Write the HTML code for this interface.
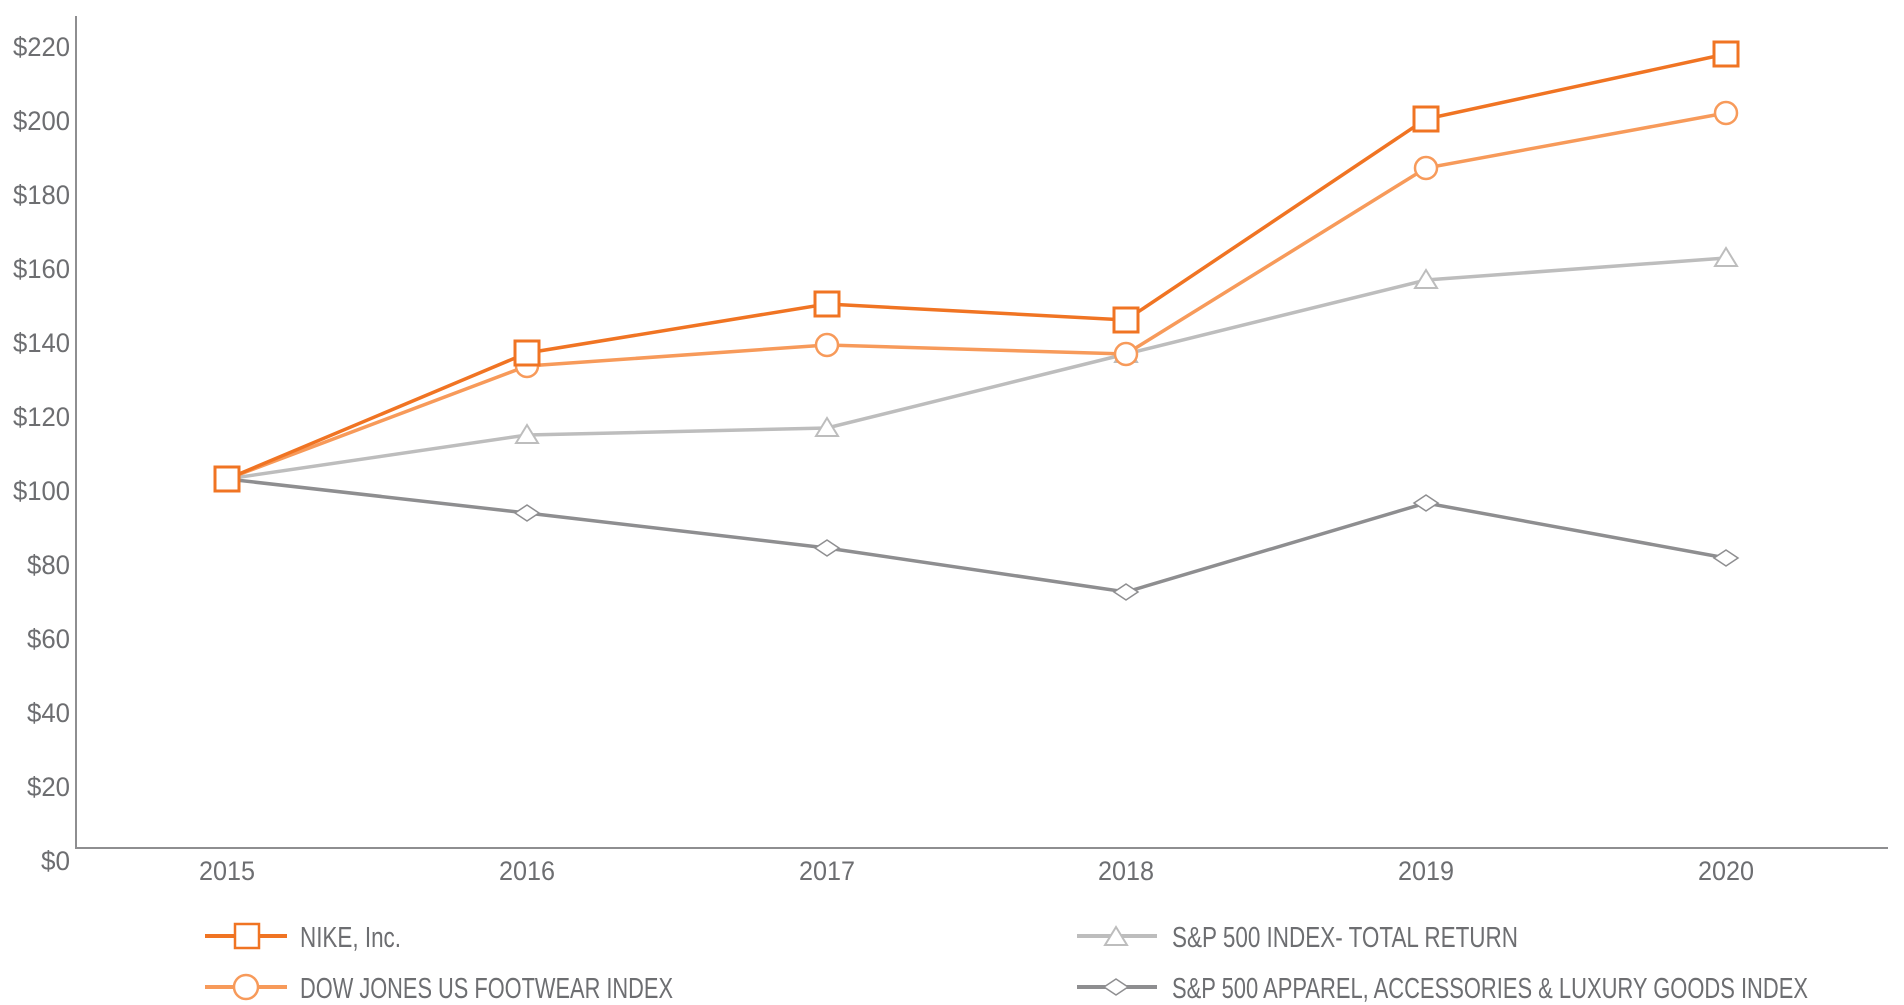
<!DOCTYPE html>
<html><head><meta charset="utf-8"><style>
html,body{margin:0;padding:0;background:#fff;}
svg{display:block;}
text{font-family:"Liberation Sans",Arial,sans-serif;fill:#6d6e71;}
</style></head><body>
<svg width="1904" height="1005" viewBox="0 0 1904 1005" xmlns="http://www.w3.org/2000/svg">
<line x1="76" y1="16" x2="76" y2="849" stroke="#8e8e90" stroke-width="2"/>
<line x1="75" y1="848" x2="1888" y2="848" stroke="#8e8e90" stroke-width="2"/>
<g font-size="27" text-anchor="end">
<text x="70" y="56" textLength="57" lengthAdjust="spacingAndGlyphs">$220</text>
<text x="70" y="130" textLength="57" lengthAdjust="spacingAndGlyphs">$200</text>
<text x="70" y="204" textLength="57" lengthAdjust="spacingAndGlyphs">$180</text>
<text x="70" y="278" textLength="57" lengthAdjust="spacingAndGlyphs">$160</text>
<text x="70" y="352" textLength="57" lengthAdjust="spacingAndGlyphs">$140</text>
<text x="70" y="426" textLength="57" lengthAdjust="spacingAndGlyphs">$120</text>
<text x="70" y="500" textLength="57" lengthAdjust="spacingAndGlyphs">$100</text>
<text x="70" y="574" textLength="43" lengthAdjust="spacingAndGlyphs">$80</text>
<text x="70" y="648" textLength="43" lengthAdjust="spacingAndGlyphs">$60</text>
<text x="70" y="722" textLength="43" lengthAdjust="spacingAndGlyphs">$40</text>
<text x="70" y="796" textLength="43" lengthAdjust="spacingAndGlyphs">$20</text>
<text x="70" y="870" textLength="29" lengthAdjust="spacingAndGlyphs">$0</text>
</g>
<g font-size="27" text-anchor="middle">
<text x="227" y="880" textLength="56" lengthAdjust="spacingAndGlyphs">2015</text>
<text x="527" y="880" textLength="56" lengthAdjust="spacingAndGlyphs">2016</text>
<text x="827" y="880" textLength="56" lengthAdjust="spacingAndGlyphs">2017</text>
<text x="1126" y="880" textLength="56" lengthAdjust="spacingAndGlyphs">2018</text>
<text x="1426" y="880" textLength="56" lengthAdjust="spacingAndGlyphs">2019</text>
<text x="1726" y="880" textLength="56" lengthAdjust="spacingAndGlyphs">2020</text>
</g>
<!-- apparel -->
<polyline fill="none" stroke="#8e8e90" stroke-width="3.5" points="227,479 527,513 827,548 1126,592 1426,503 1726,558"/>
<g fill="#fff" stroke="#8e8e90" stroke-width="1.5">
<polygon points="515,513 527,505 539,513 527,521"/><polygon points="815,548 827,540 839,548 827,556"/>
<polygon points="1114,592 1126,584 1138,592 1126,600"/><polygon points="1414,503 1426,495 1438,503 1426,511"/>
<polygon points="1714,558 1726,550 1738,558 1726,566"/>
</g>
<!-- sp500 -->
<polyline fill="none" stroke="#bdbdbd" stroke-width="3.5" points="227,479 527,435 827,428 1126,354 1426,280 1726,258"/>
<g fill="#fff" stroke="#bdbdbd" stroke-width="2">
<polygon points="516,443 527,425 538,443"/><polygon points="816,436 827,418 838,436"/>
<polygon points="1115,362 1126,344 1137,362"/><polygon points="1415,288 1426,270 1437,288"/>
<polygon points="1715,266 1726,248 1737,266"/>
</g>
<!-- dow -->
<polyline fill="none" stroke="#f79a5a" stroke-width="3.5" points="227,479 527,366 827,345 1126,354 1426,168 1726,113"/>
<g fill="#fff" stroke="#f79a5a" stroke-width="2.5">
<ellipse cx="527" cy="366" rx="11" ry="11"/><ellipse cx="827" cy="345" rx="11" ry="11"/>
<ellipse cx="1126" cy="354" rx="11" ry="11"/><ellipse cx="1426" cy="168" rx="11" ry="11"/>
<ellipse cx="1726" cy="113" rx="11" ry="11"/>
</g>
<!-- nike -->
<polyline fill="none" stroke="#f07423" stroke-width="3.5" points="227,479 527,353 827,304 1126,320 1426,119 1726,54"/>
<g fill="#fff" stroke="#f07423" stroke-width="3">
<rect x="215" y="467" width="24" height="24"/><rect x="515" y="341" width="24" height="24"/>
<rect x="815" y="292" width="24" height="24"/><rect x="1114" y="308" width="24" height="24"/>
<rect x="1414" y="107" width="24" height="24"/><rect x="1714" y="42" width="24" height="24"/>
</g>
<!-- legend -->
<line x1="205" y1="936" x2="287" y2="936" stroke="#f07423" stroke-width="4"/>
<rect x="235" y="924" width="24" height="24" fill="#fff" stroke="#f07423" stroke-width="2.5"/>
<text x="300" y="947" font-size="29" textLength="101" lengthAdjust="spacingAndGlyphs">NIKE, Inc.</text>
<line x1="205" y1="987" x2="287" y2="987" stroke="#f79a5a" stroke-width="4"/>
<circle cx="246" cy="987" r="12" fill="#fff" stroke="#f79a5a" stroke-width="2.5"/>
<text x="300" y="998" font-size="29" textLength="373" lengthAdjust="spacingAndGlyphs">DOW JONES US FOOTWEAR INDEX</text>
<line x1="1077" y1="936" x2="1157" y2="936" stroke="#bdbdbd" stroke-width="4"/>
<polygon points="1105,945 1116,927 1127,945" fill="#fff" stroke="#bdbdbd" stroke-width="2"/>
<text x="1172" y="947" font-size="29" textLength="346" lengthAdjust="spacingAndGlyphs">S&amp;P 500 INDEX- TOTAL RETURN</text>
<line x1="1077" y1="987" x2="1157" y2="987" stroke="#8e8e90" stroke-width="4"/>
<polygon points="1104,987 1116,979 1128,987 1116,995" fill="#fff" stroke="#8e8e90" stroke-width="1.5"/>
<text x="1172" y="998" font-size="29" textLength="636" lengthAdjust="spacingAndGlyphs">S&amp;P 500 APPAREL, ACCESSORIES &amp; LUXURY GOODS INDEX</text>
</svg>
</body></html>
